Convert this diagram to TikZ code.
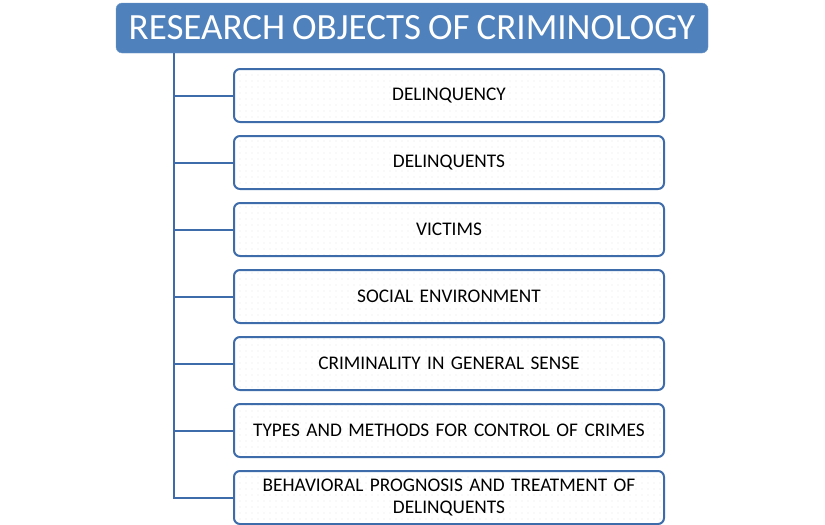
\documentclass[tikz,border=0pt]{standalone}
\usepackage{fontspec}
\setmainfont{Carlito}[WordSpace=0.85]
\usetikzlibrary{positioning,patterns.meta}
\definecolor{objblue}{RGB}{79,129,189}
\definecolor{objline}{RGB}{62,108,170}
\tikzset{
    titlebox/.style={rectangle, rounded corners=6pt, draw=objblue!80!white, fill=objblue,
        text=white, minimum width=592pt, minimum height=50pt, inner sep=0pt, font=\fontsize{37}{40}\selectfont},
    itembox/.style={rectangle, rounded corners=6pt, draw=objline, line width=2pt,
        preaction={fill=white}, pattern={Dots[distance=6pt, radius=0.45pt]}, pattern color=black!25,
        minimum width=430pt, minimum height=53pt, inner sep=0pt, text width=410pt, align=center,
        font=\fontsize{19.3}{22}\selectfont},
    branch/.style={draw=objline, line width=2pt}
}
\begin{document}
\begin{tikzpicture}[x=1pt, y=-1pt]
    \useasboundingbox (0,0) rectangle (825,525);

    % Title
    \node[titlebox] (title) at (412, 28) {RESEARCH OBJECTS OF CRIMINOLOGY};
    \coordinate (spine) at (174, 53);

    % Research objects
    \node[itembox] (d1) at (449, 95.5) {DELINQUENCY};
    \node[itembox] (d2) at (449, 162.5) {DELINQUENTS};
    \node[itembox] (d3) at (449, 229.5) {VICTIMS};
    \node[itembox] (d4) at (449, 296.5) {SOCIAL ENVIRONMENT};
    \node[itembox] (d5) at (449, 363.5) {CRIMINALITY IN GENERAL SENSE};
    \node[itembox] (d6) at (449, 430.5) {TYPES AND METHODS FOR CONTROL OF CRIMES};
    \node[itembox] (d7) at (449, 497.5) {BEHAVIORAL PROGNOSIS AND TREATMENT OF\\ DELINQUENTS};

    % Connectors
    \draw[branch] (spine) |- (d1.west);
    \draw[branch] (spine) |- (d2.west);
    \draw[branch] (spine) |- (d3.west);
    \draw[branch] (spine) |- (d4.west);
    \draw[branch] (spine) |- (d5.west);
    \draw[branch] (spine) |- (d6.west);
    \draw[branch] (spine) |- (d7.west);
\end{tikzpicture}
\end{document}
